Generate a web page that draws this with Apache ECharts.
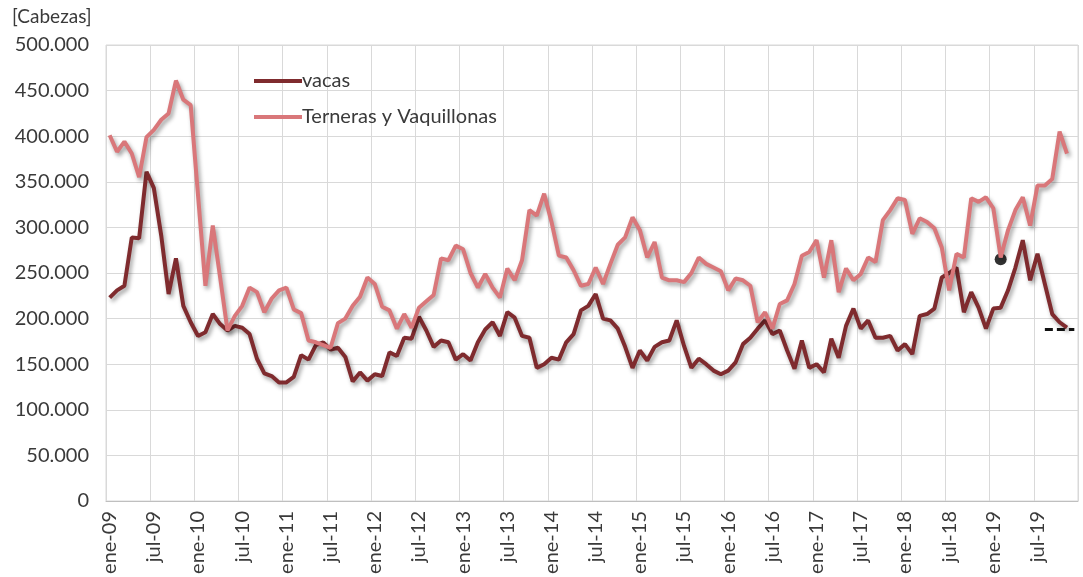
<!DOCTYPE html>
<html>
<head>
<meta charset="utf-8">
<script src="https://cdn.jsdelivr.net/npm/echarts@6/dist/echarts.min.js"></script>
<style>
html,body{margin:0;padding:0;background:#fff;}
#chart{width:1083px;height:577px;}
</style>
</head>
<body>
<div id="chart"></div>
<script>
const meses = ['ene','feb','mar','abr','may','jun','jul','ago','sep','oct','nov','dic'];
const anios = ['09','10','11','12','13','14','15','16','17','18','19'];
const categorias = anios.flatMap(a => meses.map(m => m + '-' + a));

const vacas = [
 223000,231000,236000,289000,288000,361000,343000,291000,227000,266000,214000,196000,
 181000,185000,205000,194000,187000,192000,190000,183000,156000,140000,137000,130000,
 130000,136000,160000,155000,171000,174000,166000,168000,158000,131000,141000,132000,
 139000,137000,163000,159000,179000,178000,202000,187000,169000,176000,174000,155000,
 161000,154000,174000,188000,196000,181000,207000,201000,181000,179000,146000,150000,
 157000,155000,174000,183000,209000,214000,227000,200000,198000,189000,169000,146000,
 165000,154000,169000,174000,176000,198000,170000,146000,156000,150000,143000,139000,
 143000,152000,172000,179000,189000,198000,183000,187000,165000,145000,176000,146000,
 150000,141000,178000,157000,192000,211000,189000,198000,179000,179000,181000,165000,
 172000,161000,203000,205000,211000,245000,250000,256000,207000,229000,212000,189000,
 211000,212000,231000,256000,286000,242000,271000,238000,205000,196000,190000
];

const terneras = [
 401000,383000,394000,381000,355000,399000,407000,418000,425000,461000,440000,434000,
 335000,236000,302000,245000,187000,203000,214000,234000,229000,207000,222000,231000,
 234000,210000,206000,176000,174000,171000,168000,195000,200000,214000,224000,245000,
 238000,213000,209000,189000,205000,190000,212000,219000,226000,266000,264000,280000,
 276000,250000,234000,249000,234000,223000,255000,242000,264000,319000,313000,337000,
 306000,269000,267000,253000,236000,238000,256000,238000,260000,281000,289000,311000,
 297000,267000,284000,245000,242000,242000,240000,250000,267000,260000,256000,252000,
 231000,244000,242000,236000,196000,207000,189000,216000,220000,238000,269000,273000,
 286000,245000,286000,229000,255000,242000,249000,267000,262000,308000,319000,332000,
 330000,293000,310000,306000,299000,278000,231000,271000,267000,332000,328000,333000,
 321000,267000,297000,319000,333000,302000,346000,346000,353000,405000,381000
];

const punto = [['feb-19', 265000]];
const referencia = [['ago-19', 188000], ['dic-19', 188000]];
const yTicks = { min: 0, max: 500000, interval: 50000 };

function fmt(v){ return String(v).replace(/\B(?=(\d{3})+(?!\d))/g, '.'); }

const chart = echarts.init(document.getElementById('chart'), null, {renderer:'canvas'});
const txt = '#3a3a3a';
const font = 'Lato, "Open Sans", sans-serif';
const shadow = {shadowColor:'rgba(0,0,0,0.38)', shadowBlur:4, shadowOffsetX:2, shadowOffsetY:3};

chart.setOption({
  animation: false,
  backgroundColor: '#ffffff',
  textStyle: { fontFamily: font },
  title: {
    text: '[Cabezas]', left: 7, top: 2,
    textStyle: { fontSize: 19, fontWeight: 'normal', color: txt, fontFamily: font }
  },
  legend: {
    data: ['vacas', 'Terneras y Vaquillonas'],
    orient: 'vertical', left: 249, top: 66,
    icon: 'rect', itemWidth: 48, itemHeight: 4, itemGap: 16,
    textStyle: { fontSize: 20, color: txt, fontFamily: font, padding: [0,0,0,-5] }
  },
  grid: { left: 106, right: 5, top: 45, bottom: 76, show: true, borderColor: '#d9d9d9', borderWidth: 1 },
  xAxis: {
    type: 'category', data: categorias, boundaryGap: true,
    axisLine: { lineStyle: { color: '#bfbfbf', width: 1 } },
    axisTick: { interval: 5, length: 6, lineStyle: { color: '#bfbfbf' } },
    axisLabel: { interval: 5, rotate: 90, margin: 10, fontSize: 20, color: txt, fontFamily: font },
    splitLine: { show: true, interval: 5, lineStyle: { color: '#d9d9d9', width: 1 } }
  },
  yAxis: {
    type: 'value', min: yTicks.min, max: yTicks.max, interval: yTicks.interval,
    axisLine: { show: false }, axisTick: { show: false },
    axisLabel: { formatter: fmt, fontSize: 20, color: txt, margin: 17, fontFamily: font },
    splitLine: { lineStyle: { color: '#d9d9d9', width: 1 } }
  },
  series: [
    { name: 'vacas', type: 'line', data: vacas, symbol: 'none',
      itemStyle: { color: '#7f2b2e' },
      lineStyle: Object.assign({ width: 4, color: '#7f2b2e' }, shadow) },
    { name: 'Terneras y Vaquillonas', type: 'line', data: terneras, symbol: 'none',
      itemStyle: { color: '#d9777a' },
      lineStyle: Object.assign({ width: 4, color: '#d9777a' }, shadow) },
    { name: 'referencia', type: 'line', data: referencia, symbol: 'none',
      lineStyle: { color: '#111', width: 3, type: [8, 4] } },
    { name: 'punto', type: 'scatter', data: punto, symbolSize: 12,
      itemStyle: { color: '#000' } }
  ]
});
</script>
</body>
</html>
